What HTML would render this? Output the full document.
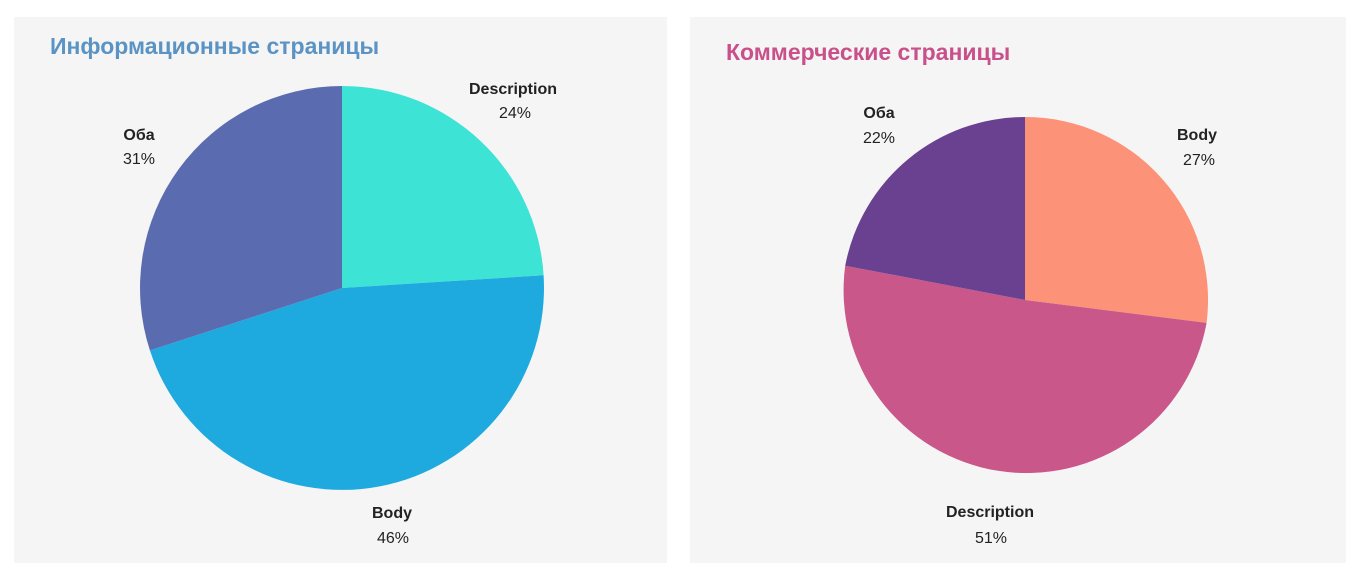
<!DOCTYPE html>
<html><head><meta charset="utf-8"><style>
body{margin:0;background:#fff;width:1360px;height:575px;overflow:hidden;font-family:"Liberation Sans",sans-serif;}
</style></head><body>
<svg width="1360" height="575" xmlns="http://www.w3.org/2000/svg" font-family="Liberation Sans, sans-serif">
<rect x="14" y="17" width="653" height="546" fill="#f5f5f5"/>
<rect x="690" y="17" width="656" height="546" fill="#f5f5f5"/>
<text x="50" y="54" font-size="23" font-weight="bold" fill="#5b93c4">Информационные страницы</text>
<text x="726" y="60" font-size="23" font-weight="bold" fill="#c9508a">Коммерческие страницы</text>
<g transform="translate(342,288)">
<path d="M0,0 L0,-202 A202,202 0 0,1 201.6,-12.7 Z" fill="#3de3d5"/>
<path d="M0,0 L201.6,-12.7 A202,202 0 0,1 -192.1,62.4 Z" fill="#1eaadf"/>
<path d="M0,0 L-192.1,62.4 A202,202 0 0,1 0,-202 Z" fill="#5a6bb0"/>
</g>
<g transform="translate(1025,300)">
<path d="M0,0 L0,-183 A183,183 0 0,1 181.6,22.9 Z" fill="#fc9277"/>
<path d="M0,0 L181.6,22.9 A183,183 0 0,1 -179.8,-34.3 Z" fill="#c9578a"/>
<path d="M0,0 L-179.8,-34.3 A183,183 0 0,1 0,-183 Z" fill="#6a4190"/>
</g>
<g font-size="16" fill="#222" text-anchor="middle">
<text x="513" y="94" font-weight="bold">Description</text><text x="515" y="118">24%</text>
<text x="139" y="140" font-weight="bold">Оба</text><text x="139" y="164">31%</text>
<text x="392" y="518" font-weight="bold">Body</text><text x="393" y="543">46%</text>
<text x="879" y="118" font-weight="bold">Оба</text><text x="879" y="143">22%</text>
<text x="1197" y="140" font-weight="bold">Body</text><text x="1199" y="165">27%</text>
<text x="990" y="517" font-weight="bold">Description</text><text x="991" y="543">51%</text>
</g>
</svg>
</body></html>
